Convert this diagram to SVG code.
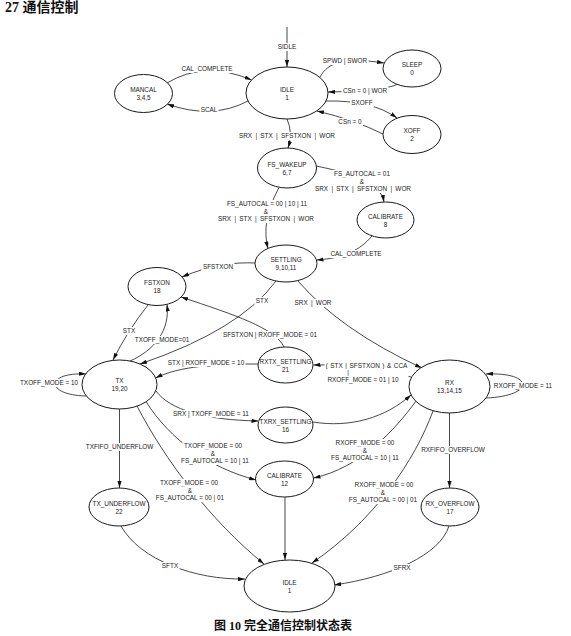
<svg xmlns="http://www.w3.org/2000/svg" width="571" height="636" viewBox="0 0 571 636">
<style>
.n ellipse{fill:#fff;stroke:#1a1a1a;stroke-width:1}
.n text,.lb text{font-family:"Liberation Sans",Arial,sans-serif;font-size:6.4px;fill:#1a1a1a;text-anchor:middle}
.c path{fill:none;stroke:#1a1a1a;stroke-width:0.8;marker-end:url(#ah)}
.c path.na{marker-end:none}
.lb rect{fill:#fff;stroke:none}
.ttl{font-family:"Liberation Serif","Noto Sans CJK SC",serif;font-weight:bold;fill:#111}
</style>
<defs>
<marker id="ah" viewBox="0 0 10 6" refX="10" refY="3" markerWidth="7" markerHeight="4.2" markerUnits="userSpaceOnUse" orient="auto"><path d="M0,0 L10,3 L0,6 z" fill="#111"/></marker>
</defs>
<rect width="571" height="636" fill="#fff"/>
<text class="ttl" x="5" y="12" font-size="14">27 通信控制</text>

<g id="connectors" class="c">
<path d="M287,27 L287,67"/>
<path d="M167,83 Q205,60 251.5,80"/>
<path d="M248,101 Q212,120 167,104"/>
<path d="M320,77 C328,62 345,57 384,63"/>
<path d="M398,84 Q385,91 328,92"/>
<path d="M326,101 Q372,100 397,118"/>
<path d="M383,134 Q355,120 317,111"/>
<path d="M287,119 Q293,132 288,148"/>
<path d="M316,166 C345,172 380,180 384,202"/>
<path d="M279,187.5 C270,205 262,225 268,248.5"/>
<path d="M372,236 C360,250 345,258 316.5,260"/>
<path d="M255,263 C235,262 210,265 182,277"/>
<path d="M276,281 Q240,330 140,364"/>
<path d="M298,281 Q340,330 422,368"/>
<path d="M148,305 Q128,330 113,360"/>
<path d="M130,361 C155,350 170,330 167,304.5"/>
<path d="M284,347 C275,328 235,315 181,297"/>
<path d="M258,364 C215,364 180,366 155.5,378"/>
<path d="M411,377 C380,368 345,364 313.5,365"/>
<path d="M86,396 C45,395 45,372 86,374"/>
<path d="M486,398 C535,396 535,372 486,374"/>
<path d="M156,391 C170,410 205,420 258.5,421"/>
<path d="M313,422 C350,428 385,418 411,395"/>
<path d="M146,401.5 C170,440 210,468 256,480"/>
<path d="M137,406 C165,460 210,520 264,564"/>
<path d="M119.5,409 L119.5,488"/>
<path d="M121,526 C140,560 195,580 245,579"/>
<path d="M416,401 C395,430 360,468 313.5,478"/>
<path d="M433,411 C415,460 375,520 312,563"/>
<path d="M449.5,413 L449.5,488"/>
<path d="M449,526 C440,555 390,577 334,585"/>
<path d="M285,497 L285,560"/>
</g>

<g id="labels" class="lb">
<rect x="276.5" y="43" width="21" height="8"/><text x="287" y="49.3">SIDLE</text>
<rect x="179" y="65" width="56" height="8"/><text x="207" y="71.3">CAL_COMPLETE</text>
<rect x="199.5" y="106" width="19" height="8"/><text x="209" y="112.3">SCAL</text>
<rect x="321.5" y="57" width="47" height="8"/><text x="345" y="63.3">SPWD | SWOR</text>
<rect x="341.5" y="87" width="47" height="8"/><text x="365" y="93.3">CSn = 0 | WOR</text>
<rect x="350" y="99" width="24" height="8"/><text x="362" y="105.3">SXOFF</text>
<rect x="337" y="118" width="26" height="8"/><text x="350" y="124.3">CSn = 0</text>
<rect x="237.5" y="132" width="99" height="8"/><text x="287" y="138.3" word-spacing="1.5">SRX | STX | SFSTXON | WOR</text>
<rect x="332.5" y="170" width="59" height="8.5"/><text x="362" y="176.3">FS_AUTOCAL = 01</text>
<rect x="332.5" y="177.5" width="59" height="8.5"/><text x="362" y="183.8">&amp;</text>
<rect x="313.5" y="185" width="99" height="8"/><text x="363" y="191.3" word-spacing="1.5">SRX | STX | SFSTXON | WOR</text>
<rect x="225" y="200" width="84" height="8.5"/><text x="267" y="206.3">FS_AUTOCAL = 00 | 10 | 11</text>
<rect x="246" y="207.5" width="40" height="8.5"/><text x="266" y="213.8">&amp;</text>
<rect x="216.5" y="215" width="99" height="8"/><text x="266" y="221.3" word-spacing="1.5">SRX | STX | SFSTXON | WOR</text>
<rect x="328" y="250" width="56" height="8"/><text x="356" y="256.3">CAL_COMPLETE</text>
<rect x="201.5" y="263" width="33" height="8"/><text x="218" y="269.3">SFSTXON</text>
<rect x="254.5" y="297" width="15" height="8"/><text x="262" y="303.3">STX</text>
<rect x="293" y="299" width="40" height="8"/><text x="313" y="305.3" word-spacing="1.5">SRX | WOR</text>
<rect x="121.5" y="327" width="15" height="8"/><text x="129" y="333.3">STX</text>
<rect x="133.5" y="336" width="57" height="8"/><text x="162" y="342.3">TXOFF_MODE=01</text>
<rect x="221.5" y="331" width="97" height="8"/><text x="270" y="337.3">SFSTXON | RXOFF_MODE = 01</text>
<rect x="166.5" y="359" width="79" height="8"/><text x="206" y="365.3">STX | RXOFF_MODE = 10</text>
<rect x="324.5" y="362" width="84" height="8"/><text x="366.5" y="368.3" word-spacing="0.8">( STX | SFSTXON ) &amp; CCA</text>
<rect x="324.5" y="369" width="84" height="8"/><text x="348" y="375.3">|</text>
<rect x="326" y="376" width="74" height="8"/><text x="363" y="382.3">RXOFF_MODE = 01 | 10</text>
<rect x="18.5" y="379" width="61" height="8"/><text x="49" y="385.3">TXOFF_MODE = 10</text>
<rect x="492" y="382" width="62" height="8"/><text x="523" y="388.3">RXOFF_MODE = 11</text>
<rect x="171.5" y="410" width="79" height="8"/><text x="211" y="416.3">SRX | TXOFF_MODE = 11</text>
<rect x="182.5" y="442" width="61" height="8"/><text x="213" y="448.3">TXOFF_MODE = 00</text>
<rect x="182.5" y="449.5" width="61" height="8"/><text x="213" y="455.8">&amp;</text>
<rect x="179.5" y="457" width="71" height="8"/><text x="215" y="463.3">FS_AUTOCAL = 10 | 11</text>
<rect x="158.5" y="479" width="61" height="8"/><text x="189" y="485.3">TXOFF_MODE = 00</text>
<rect x="170" y="486.5" width="40" height="8"/><text x="190" y="492.8">&amp;</text>
<rect x="154.5" y="494" width="71" height="8"/><text x="190" y="500.3">FS_AUTOCAL = 00 | 01</text>
<rect x="84.5" y="443" width="70" height="8"/><text x="119.5" y="449.3">TXFIFO_UNDERFLOW</text>
<rect x="160.5" y="562" width="19" height="8"/><text x="170" y="568.3">SFTX</text>
<rect x="334" y="439" width="62" height="8"/><text x="365" y="445.3">RXOFF_MODE = 00</text>
<rect x="345" y="446.5" width="40" height="8"/><text x="365" y="452.8">&amp;</text>
<rect x="329.5" y="454" width="71" height="8"/><text x="365" y="460.3">FS_AUTOCAL = 10 | 11</text>
<rect x="353" y="481" width="62" height="8"/><text x="384" y="487.3">RXOFF_MODE = 00</text>
<rect x="363" y="488.5" width="40" height="8"/><text x="383" y="494.8">&amp;</text>
<rect x="347.5" y="496" width="71" height="8"/><text x="383" y="502.3">FS_AUTOCAL = 00 | 01</text>
<rect x="418.5" y="446" width="69" height="8"/><text x="453" y="452.3">RXFIFO_OVERFLOW</text>
<rect x="392" y="564" width="20" height="8"/><text x="402" y="570.3">SFRX</text>
</g>

<g id="idle_top" class="n"><ellipse cx="287" cy="93" rx="41" ry="26"/><text x="287" y="91.5">IDLE</text><text x="287" y="99.5">1</text></g>
<g id="mancal" class="n"><ellipse cx="143.5" cy="93.5" rx="29" ry="19"/><text x="143.5" y="92">MANCAL</text><text x="143.5" y="100">3,4,5</text></g>
<g id="sleep" class="n"><ellipse cx="412" cy="68.5" rx="29" ry="18.5"/><text x="412" y="67">SLEEP</text><text x="412" y="75">0</text></g>
<g id="xoff" class="n"><ellipse cx="412" cy="134.5" rx="29" ry="19"/><text x="412" y="133">XOFF</text><text x="412" y="141">2</text></g>
<g id="fs_wakeup" class="n"><ellipse cx="287" cy="168" rx="29.5" ry="20"/><text x="287" y="166.5">FS_WAKEUP</text><text x="287" y="174.5">6,7</text></g>
<g id="calibrate8" class="n"><ellipse cx="385.5" cy="220" rx="28.5" ry="18"/><text x="385.5" y="218.5">CALIBRATE</text><text x="385.5" y="226.5">8</text></g>
<g id="settling" class="n"><ellipse cx="286" cy="263.5" rx="31" ry="18.5"/><text x="286" y="262">SETTLING</text><text x="286" y="270">9,10,11</text></g>
<g id="fstxon" class="n"><ellipse cx="157" cy="286.5" rx="29" ry="19"/><text x="157" y="285">FSTXON</text><text x="157" y="293">18</text></g>
<g id="tx" class="n"><ellipse cx="119.5" cy="384.5" rx="37.5" ry="24.5"/><text x="119.5" y="383">TX</text><text x="119.5" y="391">19,20</text></g>
<g id="rxtx_settling" class="n"><ellipse cx="285.5" cy="365" rx="27.5" ry="18"/><text x="285.5" y="363.5">RXTX_SETTLING</text><text x="285.5" y="371.5">21</text></g>
<g id="txrx_settling" class="n"><ellipse cx="285.5" cy="425" rx="27.5" ry="18"/><text x="285.5" y="423.5">TXRX_SETTLING</text><text x="285.5" y="431.5">16</text></g>
<g id="rx" class="n"><ellipse cx="449.5" cy="386.5" rx="40.5" ry="26.5"/><text x="449.5" y="385">RX</text><text x="449.5" y="393">13,14,15</text></g>
<g id="calibrate12" class="n"><ellipse cx="284.5" cy="479" rx="29" ry="18"/><text x="284.5" y="477.5">CALIBRATE</text><text x="284.5" y="485.5">12</text></g>
<g id="tx_underflow" class="n"><ellipse cx="119" cy="507" rx="30" ry="19"/><text x="119" y="505.5">TX_UNDERFLOW</text><text x="119" y="513.5">22</text></g>
<g id="rx_overflow" class="n"><ellipse cx="450" cy="507" rx="29" ry="19"/><text x="450" y="505.5">RX_OVERFLOW</text><text x="450" y="513.5">17</text></g>
<g id="idle_bottom" class="n"><ellipse cx="289.5" cy="586" rx="45.5" ry="26"/><text x="289.5" y="584.5">IDLE</text><text x="289.5" y="592.5">1</text></g>

<text class="ttl" x="283" y="630" font-size="12" text-anchor="middle">图 10 完全通信控制状态表</text>
</svg>
